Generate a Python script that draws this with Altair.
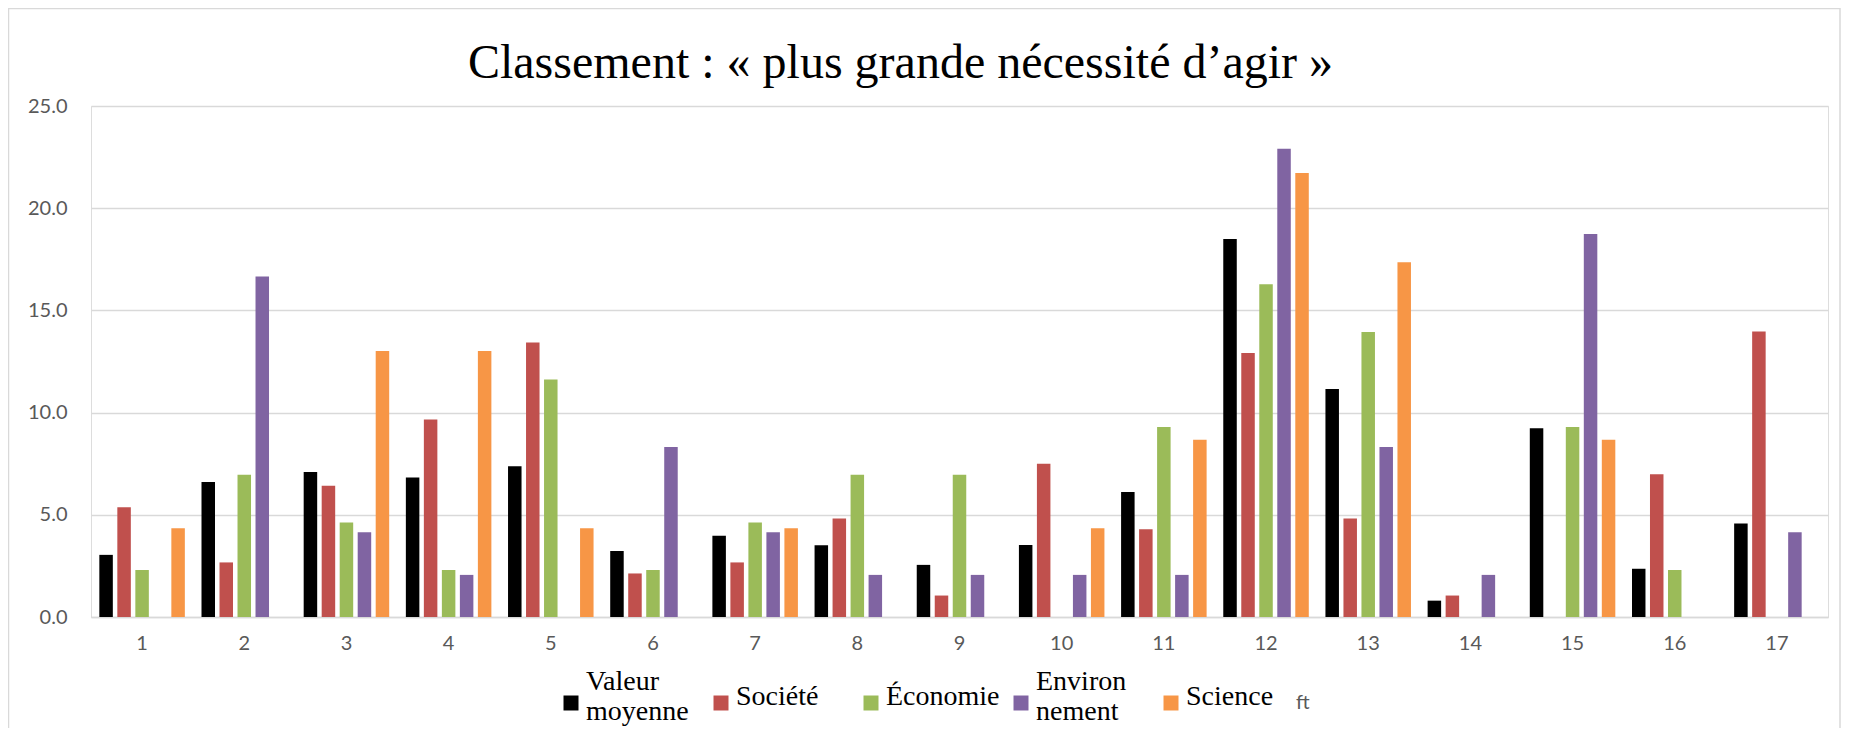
import altair as alt
import pandas as pd

categories = [str(i) for i in range(1, 18)]
series = ["Valeur moyenne", "Société", "Économie", "Environnement", "Science"]
colors = ["#000000", "#C0504D", "#9BBB59", "#8064A2", "#F79646"]

valeur_moyenne = [3.04, 6.61, 7.10, 6.82, 7.38, 3.23, 3.98, 3.51, 2.55, 3.52, 6.12, 18.49, 11.15, 0.80, 9.23, 2.36, 4.57]
societe = [5.37, 2.67, 6.42, 9.66, 13.43, 2.13, 2.67, 4.82, 1.05, 7.50, 4.29, 12.91, 4.82, 1.05, None, 6.98, 13.97]
economie = [2.30, 6.96, 4.62, 2.30, 11.62, 2.30, 4.62, 6.96, 6.96, None, 9.30, 16.28, 13.94, None, 9.30, 2.30, None]
environnement = [None, 16.66, 4.15, 2.06, None, 8.32, 4.15, 2.06, 2.06, 2.06, 2.06, 22.91, 8.32, 2.06, 18.74, None, 4.15]
science = [4.34, None, 13.01, 13.01, 4.34, None, 4.34, None, None, 4.34, 8.67, 21.72, 17.36, None, 8.67, None, None]

title_text = "Classement : « plus grande nécessité d’agir »"
stray_text = ["ft"]

rows = []
for name, vals in zip(series, [valeur_moyenne, societe, economie, environnement, science]):
    for c, v in zip(categories, vals):
        if v is not None:
            rows.append({"cat": c, "serie": name, "val": v})
df = pd.DataFrame(rows)

W, H = 1737, 511

# legend squares: two-line labels get their square centred between the lines
sq_single = "M-1,-0.2H1V1.8H-1Z"
sq_double = "M-1,1.8H1V3.8H-1Z"
shapes = [sq_double, sq_single, sq_single, sq_double, sq_single]

def make_legend():
    return alt.Legend(
        title=None, orient="none", direction="horizontal",
        legendX=466, legendY=562,
        symbolSize=225, symbolStrokeWidth=0, symbolOpacity=1,
        labelFont="Liberation Serif", labelFontSize=28, labelColor="#000000",
        labelOffset=1, labelLimit=300, columnPadding=7, gridAlign="all",
        padding=0,
        labelExpr="datum.label == 'Valeur moyenne' ? ['Valeur', 'moyenne'] : datum.label == 'Environnement' ? ['Environ', 'nement'] : datum.label",
    )

color_enc = alt.Color("serie:N", sort=series,
                      scale=alt.Scale(domain=series, range=colors),
                      legend=make_legend())

bars = alt.Chart(df).mark_bar().encode(
    x=alt.X("cat:N", sort=categories,
            scale=alt.Scale(paddingInner=0.163, paddingOuter=0.0815),
            axis=alt.Axis(title=None, labelAngle=0, ticks=False, grid=False,
                          domainColor="#d9d9d9", domainWidth=1.3,
                          labelFont="Lato", labelFontSize=20, labelColor="#595959",
                          labelPadding=16)),
    xOffset=alt.XOffset("serie:N", sort=series,
                        scale=alt.Scale(domain=series, paddingInner=0.25, paddingOuter=0)),
    y=alt.Y("val:Q", scale=alt.Scale(domain=[0, 25], nice=False),
            axis=alt.Axis(title=None, values=[0, 5, 10, 15, 20, 25], format=".1f",
                          grid=True, gridColor="#d9d9d9", gridWidth=1.3,
                          domain=False, ticks=False,
                          labelFont="Lato", labelFontSize=20, labelColor="#595959",
                          labelPadding=24)),
    color=color_enc,
)

# invisible layer carrying the legend symbol shapes
legend_pts = alt.Chart(df).mark_point(filled=True, opacity=0).encode(
    x=alt.value(0), y=alt.value(0),
    color=color_enc,
    shape=alt.Shape("serie:N", sort=series,
                    scale=alt.Scale(domain=series, range=shapes),
                    legend=make_legend()),
)

ft = alt.Chart(pd.DataFrame({"t": stray_text})).mark_text(
    font="Lato", fontSize=20, color="#595959", align="left", baseline="middle"
).encode(text="t:N", x=alt.value(1205), y=alt.value(597))

border = alt.Chart(pd.DataFrame({"t": [0]})).mark_rect(
    filled=False, stroke="#d9d9d9", strokeWidth=1.5
).encode(x=alt.value(-82.5), x2=alt.value(1749), y=alt.value(-97.5), y2=alt.value(700))

chart = alt.layer(border, bars, legend_pts, ft).properties(
    width=W, height=H,
    autosize=alt.AutoSizeParams(type="none"),
    padding={"left": 83, "top": 98, "right": 13, "bottom": 111},
    title=alt.TitleParams(title_text, font="Liberation Serif", fontSize=48,
                          fontWeight="normal", color="#000000", anchor="middle",
                          frame="group", dx=-59, offset=-118.5, baseline="alphabetic"),
).configure_view(stroke=None).configure(background="white")

chart.save("out.html", embed_options={"renderer": "svg", "actions": False})
